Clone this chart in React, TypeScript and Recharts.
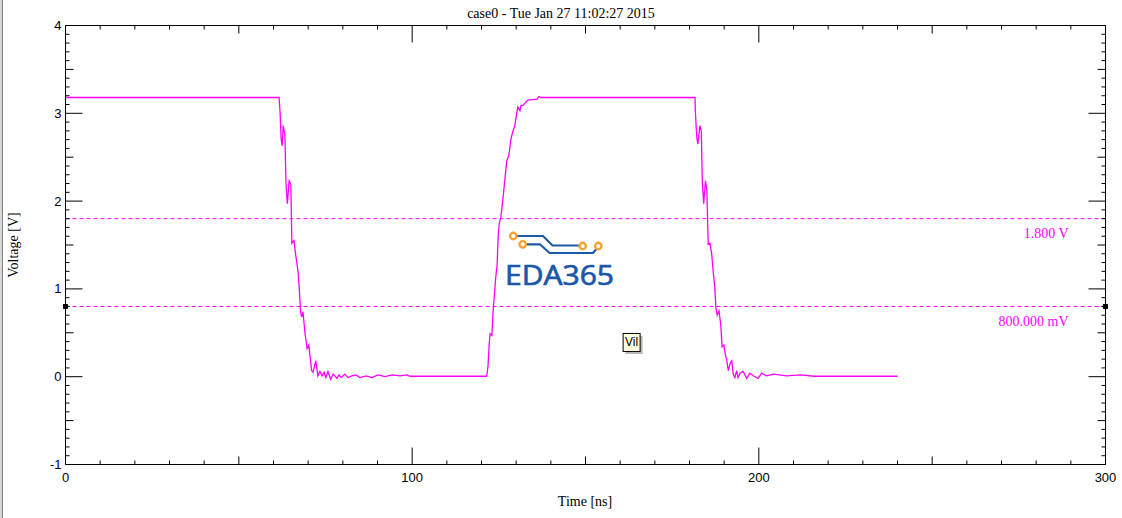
import React from "react";
import {
  LineChart, Line, XAxis, YAxis, ReferenceLine, ReferenceDot,
} from "recharts";

// waveform samples, [time ns, voltage V]
const highStart: [number, number][] = [[0, 3.18], [61.6, 3.18]];

const firstFall: [number, number][] = [
  [61.9, 3.01], [62.2, 2.71], [62.5, 2.63], [62.8, 2.86], [63.3, 2.75], [63.6, 2.2],
  [64.0, 1.97], [64.5, 2.23], [65.0, 2.19], [65.3, 1.52], [65.9, 1.55], [66.5, 1.36],
  [67.1, 1.19], [67.4, 1.02], [67.8, 0.75], [68.1, 0.68], [68.5, 0.74], [69.1, 0.49],
  [69.7, 0.32], [70.2, 0.36], [71.0, 0.07], [71.4, 0.05], [72.2, 0.18], [72.8, 0.01],
  [73.4, 0.06], [74.0, 0.01], [74.6, 0.05], [75.1, -0.01], [75.7, 0.06], [76.5, -0.03],
  [77.2, 0.03], [77.7, 0.01], [78.3, -0.02], [78.9, 0.02], [79.5, -0.01], [80.6, 0.03],
  [81.5, -0.01], [82.6, 0.01], [83.8, 0.02], [84.9, -0.01], [86.7, 0.01], [88.4, -0.01],
  [90.1, 0.02], [92.2, 0.0], [94.2, 0.02], [96.5, 0.01], [98.5, 0.02], [99.4, 0.005],
  [121.5, 0.005],
];

const rise: [number, number][] = [
  [121.9, 0.13], [122.2, 0.37], [122.5, 0.49], [123.0, 0.47], [123.3, 0.72], [123.6, 0.87],
  [124.1, 1.13], [124.5, 1.27], [124.8, 1.59], [125.1, 1.74], [125.6, 1.82], [126.2, 2.03],
  [126.8, 2.27], [127.3, 2.46], [127.9, 2.52], [128.5, 2.71], [129.1, 2.8], [129.6, 2.86],
  [130.2, 3.01], [130.5, 3.07], [131.1, 3.03], [131.4, 3.09], [132.0, 3.09], [133.3, 3.15],
  [136.0, 3.16], [136.6, 3.19], [137.1, 3.18], [181.6, 3.18],
];

const secondFall: [number, number][] = [
  [181.7, 3.01], [182.1, 2.73], [182.4, 2.65], [183.0, 2.86], [183.4, 2.8], [183.7, 2.22],
  [184.1, 1.97], [184.6, 2.23], [185.0, 2.13], [185.4, 1.51], [185.9, 1.52], [186.4, 1.4],
  [186.8, 1.21], [187.3, 1.02], [187.6, 0.79], [188.0, 0.7], [188.5, 0.75], [189.0, 0.6],
  [189.4, 0.34], [189.9, 0.36], [190.4, 0.24], [190.7, 0.2], [191.2, 0.07], [191.7, 0.15],
  [192.2, 0.18], [192.6, 0.03], [193.1, -0.01], [193.6, 0.07], [194.0, -0.01], [194.6, 0.04],
  [195.5, 0.06], [196.5, -0.02], [197.4, 0.04], [198.4, 0.01], [199.8, -0.02], [200.8, 0.04],
  [202.2, 0.01], [204.2, 0.03], [208.0, 0.01], [212.0, 0.02], [216.0, 0.005], [240.0, 0.005],
];

const thresholds = [
  { v: 1.8, label: "1.800 V" },
  { v: 0.8, label: "800.000 mV" },
];
const vilMarker = { t: 163.3, v: 0.39, label: "Vil" };

const timeMajor = [0, 100, 200, 300];
const voltMajor = [-1, 0, 1, 2, 3, 4];
const timeTicks = Array.from({ length: 31 }, (_, i) => i * 10);
const voltTicks = Array.from({ length: 51 }, (_, i) => (i - 10) / 10);

const data = [...highStart, ...firstFall, ...rise, ...secondFall].map(([t, v]) => ({ t, v }));

const MAGENTA = "#ff00ff";
const TICK_FONT = { fontFamily: "'Liberation Sans', Arial, sans-serif", fontSize: 13, fill: "#000" };
const SERIF = "'Liberation Serif', 'Times New Roman', serif";

const isMult = (v: number, step: number) => {
  const r = v / step;
  return Math.abs(r - Math.round(r)) < 1e-6;
};
const lenX = (v: number) => (isMult(v, 100) ? 17 : isMult(v, 50) ? 8 : 4);
const lenY = (v: number) => (isMult(v, 1) ? 17 : isMult(v, 0.5) ? 8 : 4);

function BottomTick({ x, y, payload }: any) {
  const v = payload.value;
  return (
    <g>
      <line x1={x} x2={x} y1={y} y2={y - lenX(v)} stroke="#000" />
      {timeMajor.includes(v) && (
        <text x={x} y={y + 13} textAnchor="middle" dominantBaseline="central" {...TICK_FONT}>{v}</text>
      )}
    </g>
  );
}

function TopTick({ x, y, payload }: any) {
  return <line x1={x} x2={x} y1={y} y2={y + lenX(payload.value)} stroke="#000" />;
}

function LeftTick({ x, y, payload }: any) {
  const v = payload.value;
  const major = voltMajor.find((m) => Math.abs(m - v) < 1e-6);
  return (
    <g>
      <line x1={x} x2={x + lenY(v)} y1={y} y2={y} stroke="#000" />
      {major !== undefined && (
        <text x={x - 4} y={y} textAnchor="end" dominantBaseline="central" {...TICK_FONT}>{major}</text>
      )}
    </g>
  );
}

function RightTick({ x, y, payload }: any) {
  return <line x1={x} x2={x - lenY(payload.value)} y1={y} y2={y} stroke="#000" />;
}

function ThresholdLabel({ viewBox, text }: any) {
  return (
    <text
      x={viewBox.x + viewBox.width - 37}
      y={viewBox.y + 15}
      textAnchor="end"
      dominantBaseline="central"
      fontFamily={SERIF}
      fontSize={14}
      fill={MAGENTA}
    >
      {text}
    </text>
  );
}

const squareMarker = ({ cx, cy }: any) => (
  <rect x={cx - 2.5} y={cy - 2.5} width={5} height={5} fill="#000" />
);

const vilBox = ({ cx, cy }: any) => (
  <g>
    <rect x={cx - 6} y={cy - 6.5} width={17} height={18} fill="#b8b8b8" />
    <rect x={cx - 8.5} y={cy - 9} width={17} height={18} fill="#ffffe1" stroke="#000" />
    <text x={cx} y={cy} textAnchor="middle" dominantBaseline="central" fontFamily="'Liberation Sans', Arial, sans-serif" fontSize={12} fill="#000">
      {vilMarker.label}
    </text>
  </g>
);

function Logo() {
  return (
    <svg width={1122} height={518} style={{ position: "absolute", left: 0, top: 0, pointerEvents: "none" }}>
      <g stroke="#1d5aa6" strokeWidth={2.2} fill="none">
        <path d="M516.5,236 L543,236 L552.5,245.5 L579.5,245.5" />
        <path d="M526,244.3 L540,244.3 L549.5,253 L593,253 L596,249.5" />
      </g>
      <g stroke="#f5a431" strokeWidth={2.4} fill="#fff">
        <circle cx={513.3} cy={236} r={3.2} />
        <circle cx={522.7} cy={244.3} r={3.2} />
        <circle cx={582.7} cy={246} r={3.2} />
        <circle cx={598.3} cy={246} r={3.2} />
      </g>
      <text x={505} y={285} fontFamily="'Open Sans', sans-serif" fontSize={28} fill="#1a57a6"
        stroke="#1a57a6" strokeWidth={0.7} textLength={109} lengthAdjust="spacingAndGlyphs">
        EDA365
      </text>
    </svg>
  );
}

export default function App() {
  return (
    <div style={{ position: "absolute", left: 0, top: 0, width: 1122, height: 518, background: "#fff", overflow: "hidden" }}>
      <div style={{ position: "absolute", left: 0, top: 0, width: 2, height: 518, background: "#d8d8d8" }} />
      <div style={{ position: "absolute", left: 2, top: 0, width: 1, height: 518, background: "#808080" }} />
      <div style={{ position: "absolute", left: 0, top: 5, width: 1122, textAlign: "center", fontFamily: SERIF, fontSize: 14, lineHeight: "18px" }}>
        case0 - Tue Jan 27 11:02:27 2015
      </div>
      <div style={{
        position: "absolute", left: 14, top: 245, transform: "translate(-50%, -50%) rotate(-90deg)",
        fontFamily: SERIF, fontSize: 14, whiteSpace: "nowrap",
      }}>
        Voltage [V]
      </div>
      <div style={{ position: "absolute", left: 585, top: 502, transform: "translate(-50%, -50%)", fontFamily: SERIF, fontSize: 14, whiteSpace: "nowrap" }}>
        Time [ns]
      </div>
      <Logo />
      <LineChart
        width={1122}
        height={518}
        data={data}
        margin={{ top: 15.5, right: 6.5, bottom: 23.5, left: 5.5 }}
        style={{ position: "absolute", left: 0, top: 0 }}
      >
        <XAxis
          xAxisId="bottom" dataKey="t" type="number" domain={[0, 300]} ticks={timeTicks} interval={0}
          height={30} tickSize={0} tickMargin={0} tick={<BottomTick />} axisLine={{ stroke: "#000" }}
          allowDataOverflow
        />
        <XAxis
          xAxisId="top" orientation="top" dataKey="t" type="number" domain={[0, 300]} ticks={timeTicks} interval={0}
          height={10} tickSize={0} tickMargin={0} tick={<TopTick />} axisLine={{ stroke: "#000" }}
          allowDataOverflow
        />
        <YAxis
          yAxisId="left" type="number" domain={[-1, 4]} ticks={voltTicks} interval={0}
          width={60} tickSize={0} tickMargin={0} tick={<LeftTick />} axisLine={{ stroke: "#000" }}
          allowDataOverflow
        />
        <YAxis
          yAxisId="right" orientation="right" type="number" domain={[-1, 4]} ticks={voltTicks} interval={0}
          width={10} tickSize={0} tickMargin={0} tick={<RightTick />} axisLine={{ stroke: "#000" }}
          allowDataOverflow
        />
        {thresholds.map((th) => (
          <ReferenceLine
            key={th.label}
            xAxisId="bottom"
            yAxisId="left"
            y={th.v}
            stroke={MAGENTA}
            strokeDasharray="4 3"
            label={<ThresholdLabel text={th.label} />}
          />
        ))}
        <Line
          xAxisId="bottom"
          yAxisId="left"
          type="linear"
          dataKey="v"
          stroke={MAGENTA}
          strokeWidth={1.3}
          dot={false}
          isAnimationActive={false}
        />
        <Line
          xAxisId="top"
          yAxisId="right"
          type="linear"
          dataKey="v"
          stroke="none"
          dot={false}
          legendType="none"
          isAnimationActive={false}
        />
        <ReferenceDot xAxisId="bottom" yAxisId="left" x={0} y={0.8} r={3} shape={squareMarker} ifOverflow="visible" />
        <ReferenceDot xAxisId="bottom" yAxisId="left" x={300} y={0.8} r={3} shape={squareMarker} ifOverflow="visible" />
        <ReferenceDot xAxisId="bottom" yAxisId="left" x={vilMarker.t} y={vilMarker.v} r={3} shape={vilBox} ifOverflow="visible" />
      </LineChart>
    </div>
  );
}
